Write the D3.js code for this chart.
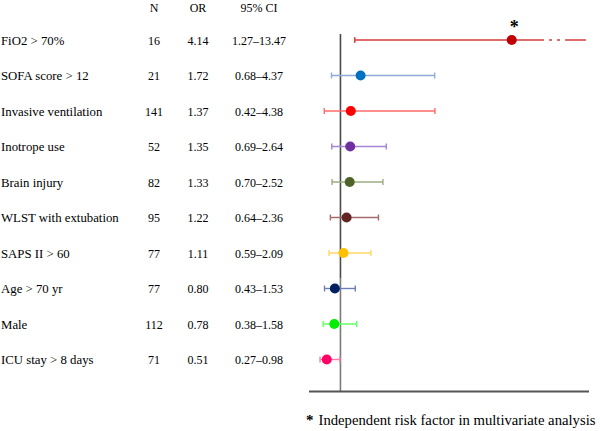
<!DOCTYPE html>
<html>
<head>
<meta charset="utf-8">
<script src="https://cdn.jsdelivr.net/npm/d3@7/dist/d3.min.js"></script>
<style>
  html, body { margin: 0; padding: 0; background: #fff; }
  svg { display: block; }
  text { font-family: "Liberation Serif", "Times New Roman", serif; fill: #000; }
</style>
</head>
<body>
<svg id="chart" width="600" height="431"></svg>
<script>
// ---- data ----
const factors = ["FiO2 > 70%", "SOFA score > 12", "Invasive ventilation", "Inotrope use", "Brain injury",
  "WLST with extubation", "SAPS II > 60", "Age > 70 yr", "Male", "ICU stay > 8 days"];
const nValues = [16, 21, 141, 52, 82, 95, 77, 77, 112, 71];
const orValues = [4.14, 1.72, 1.37, 1.35, 1.33, 1.22, 1.11, 0.80, 0.78, 0.51];
const ciLow = [1.27, 0.68, 0.42, 0.69, 0.70, 0.64, 0.59, 0.43, 0.38, 0.27];
const ciHigh = [13.47, 4.37, 4.38, 2.64, 2.52, 2.36, 2.09, 1.53, 1.58, 0.98];
const independent = [true, false, false, false, false, false, false, false, false, false];
const dotColors = ["#c00000", "#0070c0", "#ff0000", "#7030a0", "#4f6228", "#632523", "#ffc000", "#002060", "#00ee00", "#ff0066"];
const lineColors = ["#d63a3a", "#8eaadb", "#ff6a6a", "#a585d6", "#9bad80", "#a46c6c", "#ffd966", "#6a80b4", "#66ff66", "#ff79aa"];
const headers = ["N", "OR", "95% CI"];
const footnote = "Independent risk factor in multivariate analysis";

const fmt2 = d3.format(".2f");

const svg = d3.select("#chart");

// ---- scales ----
const y = d3.scalePoint().domain(factors).range([40, 359.5]);
const x = d3.scaleLinear().domain([0, 4.4]).range([312.5, 435.5]);
// broken axis used for the row whose CI exceeds the plotted range
const xBroken = d3.scaleLinear().domain([0, 1, 4.2, 14]).range([312, 340, 515, 590]);
const breakStart = 8, breakEnd = 11;

const rows = factors.map((f, i) => ({
  f, n: nValues[i], or: orValues[i], lo: ciLow[i], hi: ciHigh[i],
  star: independent[i], dot: dotColors[i], line: lineColors[i],
  sx: ciHigh[i] > x.domain()[1] ? xBroken : x
}));

// ---- table columns ----
const colX = { N: 154, OR: 198, CI: 259 };
svg.selectAll("text.hdr").data(headers).join("text")
  .attr("class", "hdr")
  .attr("x", (d, i) => [colX.N, colX.OR, colX.CI][i])
  .attr("y", 12)
  .attr("text-anchor", "middle")
  .style("font-size", "12px")
  .text(d => d);

const rowG = svg.selectAll("g.row").data(rows).join("g").attr("class", "row")
  .attr("transform", d => `translate(0,${y(d.f)})`);

rowG.append("text").attr("x", 1).attr("y", 4.5).style("font-size", "12.8px").text(d => d.f);
rowG.append("text").attr("x", colX.N).attr("y", 4.5).attr("text-anchor", "middle").style("font-size", "12px").text(d => d.n);
rowG.append("text").attr("x", colX.OR).attr("y", 4.5).attr("text-anchor", "middle").style("font-size", "12px").text(d => fmt2(d.or));
rowG.append("text").attr("x", colX.CI).attr("y", 4.5).attr("text-anchor", "middle").style("font-size", "12px")
  .text(d => fmt2(d.lo) + "\u2013" + fmt2(d.hi));

// ---- reference line at OR = 1 and bottom axis ----
const yTop = y(factors[0]) - 6, yBottom = 391.5;
const ySplit = 278;
svg.append("line").attr("x1", x(1)).attr("x2", x(1)).attr("y1", yTop).attr("y2", ySplit)
  .attr("stroke", "#4a4a4a").attr("stroke-width", 1.6);
svg.append("line").attr("x1", x(1)).attr("x2", x(1)).attr("y1", ySplit).attr("y2", yBottom)
  .attr("stroke", "#7a7a7a").attr("stroke-width", 1.6);
svg.append("line").attr("x1", 309).attr("x2", 589).attr("y1", yBottom).attr("y2", yBottom)
  .attr("stroke", "#555").attr("stroke-width", 1.8);

// ---- error bars ----
const capH = 3;
const plotG = svg.selectAll("g.ci").data(rows).join("g").attr("class", "ci")
  .attr("transform", d => `translate(0,${y(d.f)})`);

plotG.append("line")
  .attr("x1", d => d.sx(d.lo)).attr("x2", d => d.sx(d.hi))
  .attr("y1", 0).attr("y2", 0)
  .attr("stroke", d => d.line).attr("stroke-width", 1.4);
plotG.append("line")
  .attr("x1", d => d.sx(d.lo)).attr("x2", d => d.sx(d.lo))
  .attr("y1", -capH).attr("y2", capH)
  .attr("stroke", d => d.line).attr("stroke-width", 1.4);
plotG.filter(d => d.sx === x).append("line")
  .attr("x1", d => d.sx(d.hi)).attr("x2", d => d.sx(d.hi))
  .attr("y1", -capH).attr("y2", capH)
  .attr("stroke", d => d.line).attr("stroke-width", 1.4);
// axis-break marker on broken rows
plotG.filter(d => d.sx === xBroken).append("line")
  .attr("x1", d => d.sx(breakStart)).attr("x2", d => d.sx(breakEnd))
  .attr("y1", 0).attr("y2", 0)
  .attr("stroke", "#fff").attr("stroke-width", 2).attr("stroke-dasharray", "5,3");

plotG.append("circle")
  .attr("cx", d => d.sx(d.or)).attr("cy", 0).attr("r", 5)
  .attr("fill", d => d.dot);

plotG.filter(d => d.star).append("text")
  .attr("x", d => d.sx(d.or) + 2.5).attr("y", -7)
  .attr("text-anchor", "middle")
  .style("font-size", "18px").style("font-weight", "bold")
  .text("*");

// ---- footnote ----
const fn = svg.append("text").attr("x", 306).attr("y", 425).style("font-size", "14.7px");
fn.append("tspan").style("font-weight", "bold").style("font-size", "15px").text("*");
fn.append("tspan").attr("dx", 5).text(footnote);
</script>
</body>
</html>
